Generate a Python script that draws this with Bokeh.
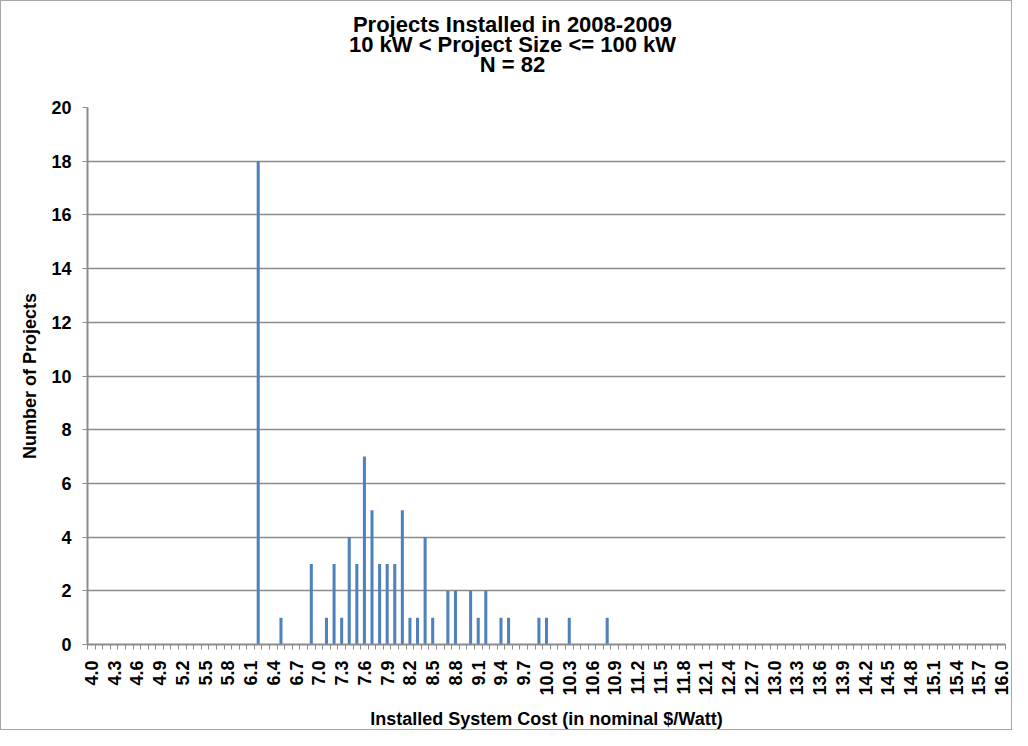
import math
from bokeh.plotting import figure
from bokeh.models import FixedTicker, PrintfTickFormatter, Title
from bokeh.embed import file_html
from bokeh.resources import INLINE

# Data: installed system cost categories ($/W) and number of projects
cost = [6.2, 6.5, 6.9, 7.1, 7.2, 7.3, 7.4, 7.5, 7.6, 7.7, 7.8, 7.9, 8.0, 8.1, 8.2,
        8.3, 8.4, 8.5, 8.7, 8.8, 9.0, 9.1, 9.2, 9.4, 9.5, 9.9, 10.0, 10.3, 10.8]
projects = [18, 1, 3, 1, 3, 1, 4, 3, 7, 5, 3, 3, 3, 5, 1,
            1, 4, 1, 2, 2, 2, 1, 2, 1, 1, 1, 1, 1, 1]
tick_labels = ["4.0", "4.3", "4.6", "4.9", "5.2", "5.5", "5.8", "6.1", "6.4", "6.7",
               "7.0", "7.3", "7.6", "7.9", "8.2", "8.5", "8.8", "9.1", "9.4", "9.7",
               "10.0", "10.3", "10.6", "10.9", "11.2", "11.5", "11.8", "12.1", "12.4",
               "12.7", "13.0", "13.3", "13.6", "13.9", "14.2", "14.5", "14.8", "15.1",
               "15.4", "15.7", "16.0"]
y_ticks = [0, 2, 4, 6, 8, 10, 12, 14, 16, 18, 20]
title_lines = ["Projects Installed in 2008-2009",
               "10 kW < Project Size <= 100 kW",
               "N = 82"]

FONT = "Liberation Sans"
GRID = "#8c8c8c"
X0, X1, Y0, Y1 = 3.95, 16.05, 0, 20
TITLE_PX = 22
BORDER_L, BORDER_R, WIDTH = 86, 8, 1012

# approximate bold glyph advance widths (em) to centre the title on the whole chart
_W = {" ": .278, "(": .333, ")": .333, "-": .333, ".": .278, "/": .278, "<": .584,
      "=": .584, "P": .667, "I": .278, "N": .722, "S": .667, "W": .944, "k": .556,
      "a": .556, "c": .556, "d": .611, "e": .556, "i": .278, "j": .278, "l": .278,
      "m": .889, "n": .611, "o": .611, "r": .389, "s": .556, "t": .333, "z": .500}


def text_width(s):
    return sum(_W.get(ch, .556) for ch in s) * TITLE_PX


p = figure(width=WIDTH, height=730, x_range=(X0, X1), y_range=(Y0, Y1),
           output_backend="svg", toolbar_location=None,
           min_border_left=BORDER_L, min_border_right=BORDER_R, min_border_bottom=85,
           min_border_top=106)
p.title.text = ""

# gap between the title block and the plot area
p.add_layout(Title(text=" ", text_font_size="10px", standoff=21), "above")
# stacked title lines, nearest to the plot first, centred on the chart
chart_centre = (WIDTH / 2 + 5) - BORDER_L
for line in reversed(title_lines):
    p.add_layout(Title(text=line, align="left", offset=chart_centre - text_width(line) / 2,
                       text_font=FONT, text_font_size=f"{TITLE_PX}px",
                       text_font_style="bold", text_color="black", standoff=-7.5), "above")

p.vbar(x=cost, top=projects, width=0.04, bottom=0, fill_color="#4f81bd", line_color=None)

# x axis: labels every 0.3, minor ticks at category boundaries
tick_vals = [float(t) for t in tick_labels]
bounds = [round(X0 + 0.1 * i, 2) for i in range(122)]
p.xaxis.ticker = FixedTicker(ticks=tick_vals, minor_ticks=bounds)
p.xaxis.formatter = PrintfTickFormatter(format="%.1f")
p.xaxis.major_label_orientation = math.pi / 2
p.xaxis.major_tick_out = 0
p.xaxis.major_tick_in = 0
p.xaxis.minor_tick_out = 5
p.xaxis.minor_tick_in = 0
p.xaxis.major_label_standoff = 11
p.xaxis.axis_label = "Installed System Cost (in nominal $/Watt)"

p.yaxis.ticker = FixedTicker(ticks=y_ticks)
p.yaxis.minor_tick_out = 0
p.yaxis.minor_tick_in = 0
p.yaxis.major_tick_out = 5
p.yaxis.major_tick_in = 0
p.yaxis.major_label_standoff = 11
p.yaxis.axis_label = "Number of Projects"

for ax in (p.xaxis, p.yaxis):
    ax.axis_line_color = GRID
    ax.axis_line_width = 2
    ax.major_tick_line_color = GRID
    ax.minor_tick_line_color = GRID
    ax.major_label_text_font = FONT
    ax.major_label_text_font_size = "18px"
    ax.major_label_text_font_style = "bold"
    ax.major_label_text_color = "black"
    ax.axis_label_text_font = FONT
    ax.axis_label_text_font_size = "18px"
    ax.axis_label_text_font_style = "bold"
    ax.axis_label_text_color = "black"

p.xaxis.axis_label_standoff = 10
p.yaxis.axis_label_standoff = 8

p.xgrid.grid_line_color = None
p.ygrid.ticker = FixedTicker(ticks=y_ticks)
p.ygrid.grid_line_color = GRID
p.ygrid.grid_line_width = 1.5
p.outline_line_color = None
p.styles = {"border": "1px solid #a6a6a6"}

open("out.html", "w").write(file_html(p, INLINE))
